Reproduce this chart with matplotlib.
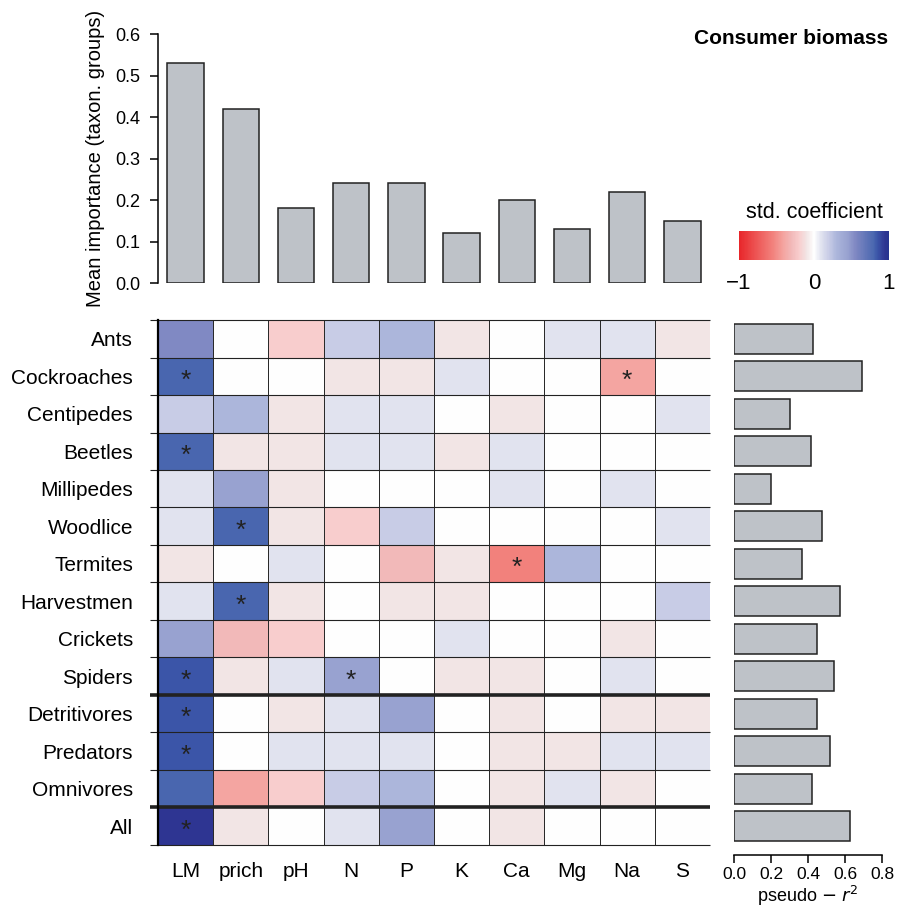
import numpy as np
import matplotlib
matplotlib.use("Agg")
import matplotlib.pyplot as plt
from matplotlib.colors import LinearSegmentedColormap, Normalize
from matplotlib.cm import ScalarMappable

plt.rcParams['font.family'] = ['Liberation Sans', 'DejaVu Sans']

# predictors (columns) and taxon groups (rows)
predictors = ['LM', 'prich', 'pH', 'N', 'P', 'K', 'Ca', 'Mg', 'Na', 'S']
taxa = ['Ants', 'Cockroaches', 'Centipedes', 'Beetles', 'Millipedes', 'Woodlice',
        'Termites', 'Harvestmen', 'Crickets', 'Spiders', 'Detritivores',
        'Predators', 'Omnivores', 'All']

# mean importance over taxon groups (top bars)
mean_importance = [0.53, 0.42, 0.18, 0.24, 0.24, 0.12, 0.20, 0.13, 0.22, 0.15]

# standardised coefficients, one list per taxon
coef_ants = [0.55, 0.0, -0.2, 0.2, 0.3, -0.1, 0.0, 0.1, 0.1, -0.1]
coef_cockroaches = [0.8, 0.0, 0.0, -0.1, -0.1, 0.1, 0.0, 0.0, -0.4, 0.0]
coef_centipedes = [0.2, 0.3, -0.1, 0.1, 0.1, 0.0, -0.1, 0.0, 0.0, 0.1]
coef_beetles = [0.8, -0.1, -0.1, 0.1, 0.1, -0.1, 0.1, 0.0, 0.0, 0.0]
coef_millipedes = [0.1, 0.45, -0.1, 0.0, 0.0, 0.0, 0.1, 0.0, 0.1, 0.0]
coef_woodlice = [0.1, 0.8, -0.1, -0.2, 0.2, 0.0, 0.0, 0.0, 0.0, 0.1]
coef_termites = [-0.1, 0.0, 0.1, 0.0, -0.3, -0.1, -0.55, 0.3, 0.0, 0.0]
coef_harvestmen = [0.1, 0.8, -0.1, 0.0, -0.1, -0.1, 0.0, 0.0, 0.0, 0.2]
coef_crickets = [0.45, -0.3, -0.2, 0.0, 0.0, 0.1, 0.0, 0.0, -0.1, 0.0]
coef_spiders = [0.85, -0.1, 0.1, 0.45, 0.0, -0.1, -0.1, 0.0, 0.1, 0.0]
coef_detritivores = [0.85, 0.0, -0.1, 0.1, 0.45, 0.0, -0.1, 0.0, -0.1, -0.1]
coef_predators = [0.85, 0.0, 0.1, 0.1, 0.1, 0.0, -0.1, -0.1, 0.1, 0.1]
coef_omnivores = [0.8, -0.4, -0.2, 0.2, 0.3, 0.0, -0.1, 0.1, -0.1, 0.0]
coef_all = [0.95, -0.1, 0.0, 0.1, 0.45, 0.0, -0.1, 0.0, 0.0, 0.0]

# significant cells (taxon, predictor)
significant = [('Cockroaches', 'LM'), ('Cockroaches', 'Na'), ('Beetles', 'LM'),
               ('Woodlice', 'prich'), ('Termites', 'Ca'), ('Harvestmen', 'prich'),
               ('Spiders', 'LM'), ('Spiders', 'N'), ('Detritivores', 'LM'),
               ('Predators', 'LM'), ('All', 'LM')]

# pseudo r2 per taxon (right bars)
pseudo_r2 = [0.425, 0.69, 0.30, 0.415, 0.20, 0.477, 0.365, 0.574, 0.45, 0.54,
             0.45, 0.52, 0.42, 0.626]

coefs = np.array([coef_ants, coef_cockroaches, coef_centipedes, coef_beetles,
                  coef_millipedes, coef_woodlice, coef_termites, coef_harvestmen,
                  coef_crickets, coef_spiders, coef_detritivores, coef_predators,
                  coef_omnivores, coef_all])

stops = [(-1.0, '#E8262A'), (-0.55, '#F2827D'), (-0.4, '#F4A6A2'),
         (-0.3, '#F2B9B9'), (-0.2, '#F8CDCD'), (-0.1, '#F2E4E4'),
         (0.0, '#FFFFFF'), (0.1, '#E0E2EF'), (0.2, '#C8CCE6'),
         (0.3, '#ACB6DB'), (0.45, '#98A2D0'), (0.55, '#8189C3'),
         (0.8, '#4A67B0'), (0.85, '#3B55A8'), (0.95, '#2E3592'),
         (1.0, '#263490')]
cmap = LinearSegmentedColormap.from_list('rwb', [((v + 1) / 2, c) for v, c in stops])
norm = Normalize(-1, 1)
bar_col = '#BEC2C8'
edge_col = '#222222'

fig = plt.figure(figsize=(8.97, 9.13), dpi=100)

# top bars
ax_top = fig.add_axes([0.1761, 0.690, 0.6154, 0.2727])
ax_top.bar(np.arange(len(predictors)), mean_importance, width=0.66,
           color=bar_col, edgecolor=edge_col, linewidth=1.1)
ax_top.set_xlim(-0.5, len(predictors) - 0.5)
ax_top.set_ylim(0, 0.6)
ax_top.set_yticks(np.arange(0, 0.61, 0.1))
ax_top.set_yticklabels(['%.1f' % v for v in np.arange(0, 0.61, 0.1)])
ax_top.set_xticks([])
for s in ['top', 'right', 'bottom']:
    ax_top.spines[s].set_visible(False)
ax_top.spines['left'].set_linewidth(1.1)
ax_top.tick_params(axis='y', labelsize=13, length=6, width=1.1, pad=7)
ax_top.set_ylabel('Mean importance (taxon. groups)', fontsize=14.5, labelpad=7)

fig.text(0.99, 0.958, 'Consumer biomass', ha='right', va='center',
         fontsize=15, fontweight='bold')

# heatmap
ax_hm = fig.add_axes([0.1761, 0.0745, 0.6154, 0.575])
nr, nc = coefs.shape
ax_hm.pcolormesh(np.arange(nc + 1) - 0.5, np.arange(nr + 1) - 0.5, coefs,
                 cmap=cmap, norm=norm, edgecolors='#2a2a2a', linewidth=0.7)
ax_hm.set_xlim(-0.5, nc - 0.5)
ax_hm.set_ylim(nr - 0.5, -0.5)
for r in range(nr + 1):
    lw = 2.6 if r in (10, 13) else 0.8
    ax_hm.plot([-0.65, nc - 0.5], [r - 0.5, r - 0.5], color='#222222', lw=lw,
               clip_on=False, solid_capstyle='butt')
for taxon, pred in significant:
    ax_hm.text(predictors.index(pred), taxa.index(taxon) + 0.12, '*',
               ha='center', va='center', fontsize=19, color='#222222')
ax_hm.set_xticks(np.arange(nc))
ax_hm.set_xticklabels(predictors, fontsize=15)
ax_hm.set_yticks(np.arange(nr))
ax_hm.set_yticklabels(taxa, fontsize=15)
ax_hm.tick_params(axis='x', length=0, pad=12)
ax_hm.tick_params(axis='y', length=0, pad=18)
for s in ['top', 'right', 'bottom']:
    ax_hm.spines[s].set_visible(False)
ax_hm.spines['left'].set_linewidth(1.6)

# right bars
ax_r = fig.add_axes([0.8183, 0.0745, 0.165, 0.575])
ax_r.barh(np.arange(nr), pseudo_r2, height=0.8, color=bar_col,
          edgecolor=edge_col, linewidth=1.1)
ax_r.set_ylim(nr - 0.5, -0.5)
ax_r.set_xlim(0, 0.8)
ax_r.set_xticks(np.arange(0, 0.81, 0.2))
ax_r.set_xticklabels(['%.1f' % v for v in np.arange(0, 0.81, 0.2)])
ax_r.set_yticks([])
for s in ['top', 'right', 'left']:
    ax_r.spines[s].set_visible(False)
ax_r.spines['bottom'].set_position(('outward', 7))
ax_r.spines['bottom'].set_linewidth(1.1)
ax_r.tick_params(axis='x', labelsize=12.5, length=6, width=1.1, pad=3)
ax_r.set_xlabel(r'pseudo $-$ $r^2$', fontsize=13, labelpad=1)

# colourbar
ax_cb = fig.add_axes([0.8238, 0.7152, 0.1672, 0.0318])
cb = fig.colorbar(ScalarMappable(norm=norm, cmap=cmap), cax=ax_cb,
                  orientation='horizontal', ticks=[-1, 0, 1])
cb.outline.set_visible(False)
cb.ax.tick_params(length=0, labelsize=16, pad=9)
cb.ax.set_xticklabels(['\u22121', '0', '1'])
ax_cb.set_title('std. coefficient', fontsize=15.5, pad=9)

fig.savefig('out.png', dpi=100)
